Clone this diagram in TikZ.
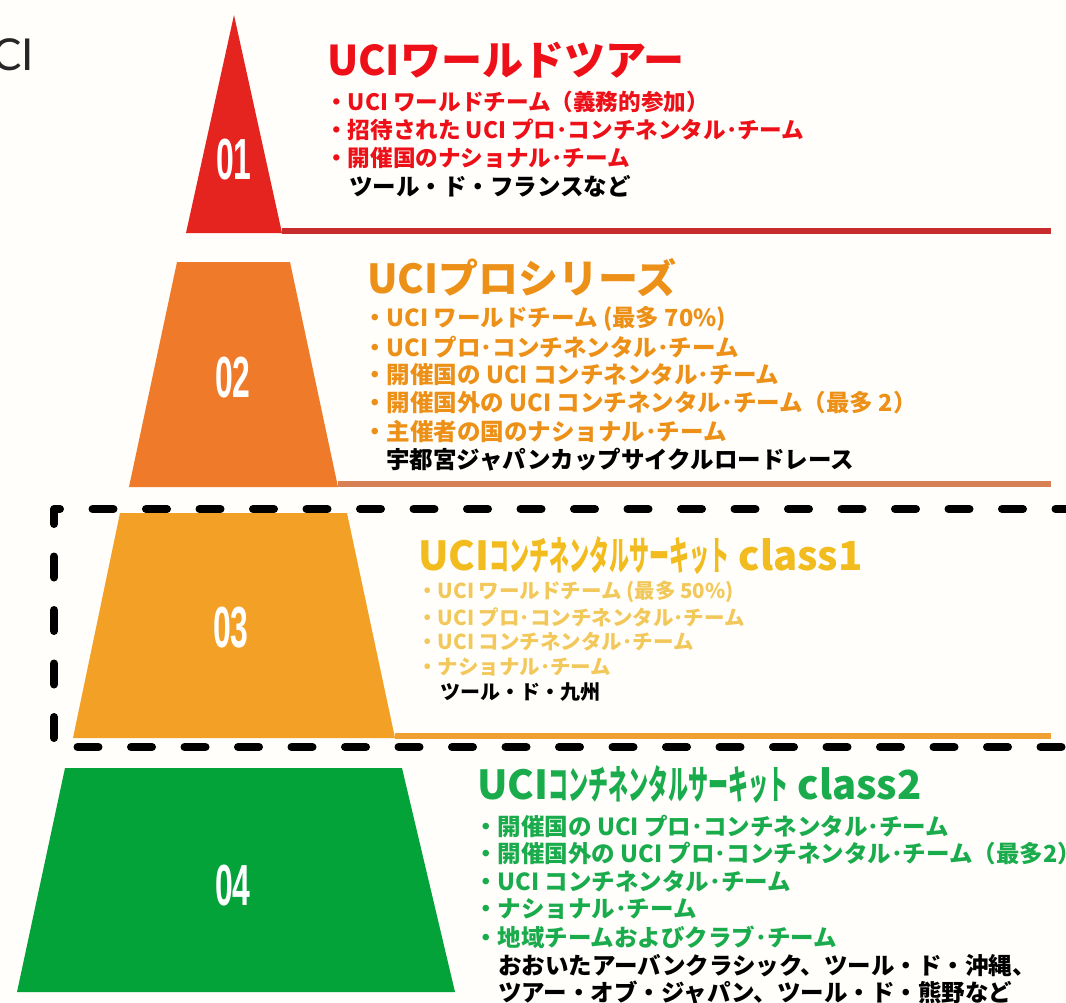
\documentclass[tikz,border=0pt]{standalone}
\usepackage{fontspec}
\setmainfont{Noto Sans CJK JP}
\newfontfamily\numfont{Liberation Sans}
\newfontfamily\latofont{Lato}
\usetikzlibrary{calc}

\definecolor{bgcol}{RGB}{255,254,250}
\definecolor{redtri}{RGB}{229,36,32}
\definecolor{redline}{RGB}{200,45,45}
\definecolor{redtext}{RGB}{238,16,24}
\definecolor{oratri}{RGB}{238,122,42}
\definecolor{oraline}{RGB}{216,128,84}
\definecolor{oratext}{RGB}{236,144,24}
\definecolor{yeltri}{RGB}{243,161,38}
\definecolor{yelline}{RGB}{240,160,50}
\definecolor{yeltext}{RGB}{242,187,30}
\definecolor{yelitem}{RGB}{242,200,90}
\definecolor{grntri}{RGB}{4,163,58}
\definecolor{grntext}{RGB}{26,172,76}

\newcommand{\narrowkana}[1]{\scalebox{0.5}[1]{#1}}
\newcommand{\rankno}[1]{\scalebox{0.55}[1]{#1}}

\tikzset{
  title/.style={anchor=west, inner sep=0pt, font=\bfseries\fontsize{40}{40}\selectfont},
  item/.style={anchor=west, inner sep=0pt, font=\bfseries\fontsize{23.5}{23.5}\selectfont},
  smallitem/.style={anchor=west, inner sep=0pt, font=\bfseries\fontsize{20.5}{20.5}\selectfont},
  rank/.style={text=white, inner sep=0pt, font=\numfont\bfseries\fontsize{58}{58}\selectfont},
  tierline/.style={line width=6pt},
}

\begin{document}
\begin{tikzpicture}[x=1pt, y=-1pt]
        \useasboundingbox (0,0) rectangle (1066,1002);
        \clip (0,0) rectangle (1066,1002);
        \fill[bgcol] (0,0) rectangle (1066,1002);
        % cut-off text at the left edge
        \node[anchor=west, inner sep=0pt, text=black!85, font=\latofont\fontsize{44}{44}\selectfont] (cut) at (-8,55) {CI};
        % tier lines
        \draw[tierline, redline] (282,231) -- (1051,231);
        \draw[tierline, oraline] (338,484) -- (1051,484);
        \draw[tierline, yelline] (395,736) -- (1051,736);
        % pyramid
        \fill[redtri] (234,15) -- (282,233) -- (186,233) -- cycle;
        \fill[oratri] (177,262) -- (290,262) -- (338,487) -- (129,487) -- cycle;
        \fill[yeltri] (120,513) -- (347,513) -- (395,738) -- (73,738) -- cycle;
        \fill[grntri] (65,768) -- (402,768) -- (455,992) -- (17,992) -- cycle;
        \node[rank] (r1) at (234,160) {\rankno{01}};
        \node[rank] (r2) at (233,378) {\rankno{02}};
        \node[rank] (r3) at (231,628) {\rankno{03}};
        \node[rank] (r4) at (233,886) {\rankno{04}};
        % dashed frame round class1
        \draw[line width=8pt, line cap=round, line join=round, dash pattern=on 21pt off 32.5pt, dash phase=40pt]
            (1090,509) -- (54,509) -- (54,747) -- (1090,747);
        % 01
        \node[title, text=redtext, font=\bfseries\fontsize{41}{41}\selectfont] (t1) at (327,60) {UCIワールドツアー};
        \node[item, text=redtext, font=\bfseries\fontsize{22.6}{22.6}\selectfont] (a1) at (325,102) {・UCI ワールドチーム（義務的参加）};
        \node[item, text=redtext, font=\bfseries\fontsize{22.6}{22.6}\selectfont] (a2) at (325,130) {・招待された UCI プロ･コンチネンタル･チーム};
        \node[item, text=redtext, font=\bfseries\fontsize{22.6}{22.6}\selectfont] (a3) at (325,158) {・開催国のナショナル･チーム};
        \node[item] (a4) at (349,186) {ツール・ド・フランスなど};
        % 02
        \node[title, text=oratext] (t2) at (367,278) {UCIプロシリーズ};
        \node[item, text=oratext] (b1) at (363,319) {・UCI ワールドチーム (最多 70\%)};
        \node[item, text=oratext] (b2) at (363,347) {・UCI プロ･コンチネンタル･チーム};
        \node[item, text=oratext] (b3) at (363,375) {・開催国の UCI コンチネンタル･チーム};
        \node[item, text=oratext] (b4) at (363,403) {・開催国外の UCI コンチネンタル･チーム（最多 2）};
        \node[item, text=oratext] (b5) at (363,432) {・主催者の国のナショナル･チーム};
        \node[item] (b6) at (386,460) {宇都宮ジャパンカップサイクルロードレース};
        % 03
        \node[title, text=yeltext] (t3) at (418,556) {UCI\narrowkana{コンチネンタルサーキット} class1};
        \node[smallitem, text=yelitem] (c1) at (417,592) {・UCI ワールドチーム (最多 50\%)};
        \node[smallitem, text=yelitem] (c2) at (417,617) {・UCI プロ･コンチネンタル･チーム};
        \node[smallitem, text=yelitem] (c3) at (417,642) {・UCI コンチネンタル･チーム};
        \node[smallitem, text=yelitem] (c4) at (417,667) {・ナショナル･チーム};
        \node[smallitem, font=\bfseries\fontsize{20}{20}\selectfont] (c5) at (440,692) {ツール・ド・九州};
        % 04
        \node[title, text=grntext] (t4) at (477,785) {UCI\narrowkana{コンチネンタルサーキット} class2};
        \node[item, text=grntext] (d1) at (474,826) {・開催国の UCI プロ･コンチネンタル･チーム};
        \node[item, text=grntext] (d2) at (474,854) {・開催国外の UCI プロ･コンチネンタル･チーム（最多2）};
        \node[item, text=grntext] (d3) at (474,881) {・UCI コンチネンタル･チーム};
        \node[item, text=grntext] (d4) at (474,909) {・ナショナル･チーム};
        \node[item, text=grntext] (d5) at (474,937) {・地域チームおよびクラブ･チーム};
        \node[item] (d6) at (498,966) {おおいたアーバンクラシック、ツール・ド・沖縄、};
        \node[item] (d7) at (498,993) {ツアー・オブ・ジャパン、ツール・ド・熊野など};
\end{tikzpicture}
\end{document}
